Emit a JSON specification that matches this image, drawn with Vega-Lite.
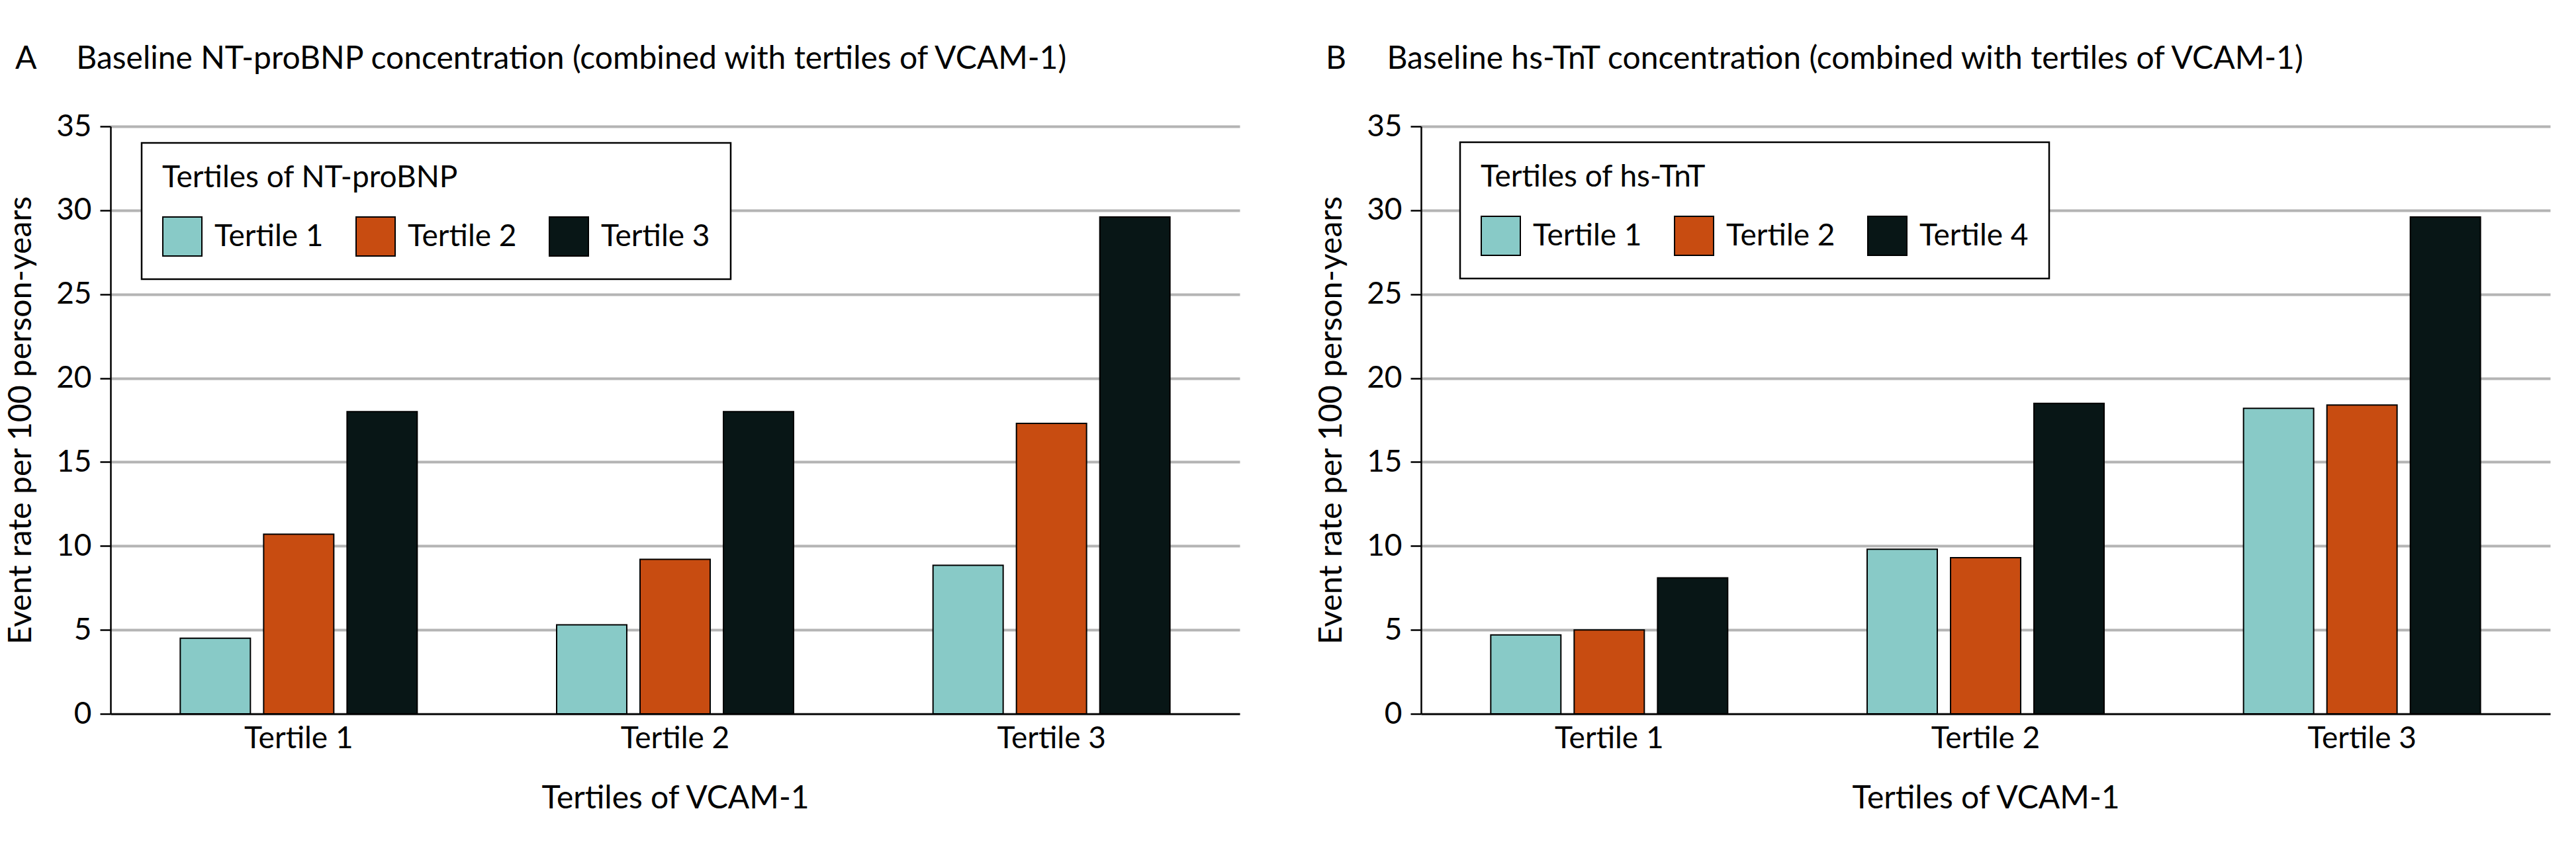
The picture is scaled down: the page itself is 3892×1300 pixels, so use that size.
{
  "$schema": "https://vega.github.io/schema/vega-lite/v6.json",
  "background": "white",
  "padding": {"left": 8, "top": 66, "right": 5, "bottom": 5},
  "spacing": 115,
  "config": {
    "font": "Lato",
    "view": {"stroke": null},
    "axis": {
      "domainColor": "black",
      "domainWidth": 2.5,
      "tickColor": "black",
      "tickWidth": 2.5,
      "tickSize": 16,
      "labelFontSize": 46,
      "labelColor": "black",
      "labelPadding": 13,
      "titleFontSize": 48,
      "titleFontWeight": "normal",
      "titleColor": "black",
      "gridColor": "#b4b4b4",
      "gridWidth": 4
    },
    "legend": {
      "labelFontSize": 46,
      "labelColor": "black",
      "labelLimit": 1000,
      "titleLimit": 2000,
      "titleFontSize": 46,
      "titleFontWeight": "normal",
      "titleColor": "black",
      "symbolType": "square",
      "symbolSize": 3481,
      "symbolStrokeColor": "black",
      "symbolStrokeWidth": 2,
      "symbolOpacity": 1,
      "labelOffset": 18,
      "columnPadding": 45,
      "padding": 31,
      "titlePadding": 34,
      "strokeColor": "black",
      "strokeWidth": 2.5,
      "fillColor": "white"
    },
    "title": {
      "fontSize": 48,
      "fontWeight": "normal",
      "color": "black",
      "anchor": "start",
      "frame": "group"
    }
  },
  "datasets": {
    "ntprobnp": [
      {"vcam": "Tertile 1", "marker": "Tertile 1", "rate": 4.5},
      {"vcam": "Tertile 1", "marker": "Tertile 2", "rate": 10.7},
      {"vcam": "Tertile 1", "marker": "Tertile 3", "rate": 18.0},
      {"vcam": "Tertile 2", "marker": "Tertile 1", "rate": 5.3},
      {"vcam": "Tertile 2", "marker": "Tertile 2", "rate": 9.2},
      {"vcam": "Tertile 2", "marker": "Tertile 3", "rate": 18.0},
      {"vcam": "Tertile 3", "marker": "Tertile 1", "rate": 8.85},
      {"vcam": "Tertile 3", "marker": "Tertile 2", "rate": 17.3},
      {"vcam": "Tertile 3", "marker": "Tertile 3", "rate": 29.6}
    ],
    "hstnt": [
      {"vcam": "Tertile 1", "marker": "Tertile 1", "rate": 4.7},
      {"vcam": "Tertile 1", "marker": "Tertile 2", "rate": 5.0},
      {"vcam": "Tertile 1", "marker": "Tertile 4", "rate": 8.1},
      {"vcam": "Tertile 2", "marker": "Tertile 1", "rate": 9.8},
      {"vcam": "Tertile 2", "marker": "Tertile 2", "rate": 9.3},
      {"vcam": "Tertile 2", "marker": "Tertile 4", "rate": 18.5},
      {"vcam": "Tertile 3", "marker": "Tertile 1", "rate": 18.2},
      {"vcam": "Tertile 3", "marker": "Tertile 2", "rate": 18.4},
      {"vcam": "Tertile 3", "marker": "Tertile 4", "rate": 29.6}
    ]
  },
  "resolve": {"scale": {"color": "independent", "xOffset": "independent", "x": "independent", "y": "independent"}},
  "hconcat": [
    {
      "width": 1706,
      "height": 888,
      "title": {"text": "A\u00a0\u00a0\u00a0\u00a0\u00a0Baseline NT-proBNP concentration (combined with tertiles of VCAM-1)", "dx": -144, "offset": 54},
      "data": {"name": "ntprobnp"},
      "mark": {"type": "bar", "stroke": "black", "strokeWidth": 2},
      "encoding": {
        "x": {
          "field": "vcam", "type": "nominal",
          "scale": {"paddingInner": 0, "paddingOuter": 0},
          "axis": {"title": "Tertiles of VCAM-1", "labelAngle": 0, "ticks": false, "tickSize": 0, "labelPadding": 15, "titlePadding": 44, "grid": false}
        },
        "xOffset": {
          "field": "marker", "type": "nominal",
          "scale": {"paddingInner": 0.159, "paddingOuter": 0.836}
        },
        "y": {
          "field": "rate", "type": "quantitative",
          "scale": {"domain": [0, 35]},
          "axis": {"title": "Event rate per 100 person-years", "values": [0, 5, 10, 15, 20, 25, 30, 35], "titlePadding": 28, "grid": true}
        },
        "color": {
          "field": "marker", "type": "nominal",
          "scale": {"domain": ["Tertile 1", "Tertile 2", "Tertile 3"], "range": ["#88cac7", "#c84c11", "#081616"]},
          "legend": {"title": "Tertiles of NT-proBNP", "orient": "none", "legendX": 47, "legendY": 25, "direction": "horizontal"}
        }
      }
    },
    {
      "width": 1706,
      "height": 888,
      "title": {"text": "B\u00a0\u00a0\u00a0\u00a0\u00a0Baseline hs-TnT concentration (combined with tertiles of VCAM-1)", "dx": -144, "offset": 54},
      "data": {"name": "hstnt"},
      "mark": {"type": "bar", "stroke": "black", "strokeWidth": 2},
      "encoding": {
        "x": {
          "field": "vcam", "type": "nominal",
          "scale": {"paddingInner": 0, "paddingOuter": 0},
          "axis": {"title": "Tertiles of VCAM-1", "labelAngle": 0, "ticks": false, "tickSize": 0, "labelPadding": 15, "titlePadding": 44, "grid": false}
        },
        "xOffset": {
          "field": "marker", "type": "nominal",
          "scale": {"paddingInner": 0.159, "paddingOuter": 0.836}
        },
        "y": {
          "field": "rate", "type": "quantitative",
          "scale": {"domain": [0, 35]},
          "axis": {"title": "Event rate per 100 person-years", "values": [0, 5, 10, 15, 20, 25, 30, 35], "titlePadding": 28, "grid": true}
        },
        "color": {
          "field": "marker", "type": "nominal",
          "scale": {"domain": ["Tertile 1", "Tertile 2", "Tertile 4"], "range": ["#88cac7", "#c84c11", "#081616"]},
          "legend": {"title": "Tertiles of hs-TnT", "orient": "none", "legendX": 59, "legendY": 24, "direction": "horizontal"}
        }
      }
    }
  ]
}
